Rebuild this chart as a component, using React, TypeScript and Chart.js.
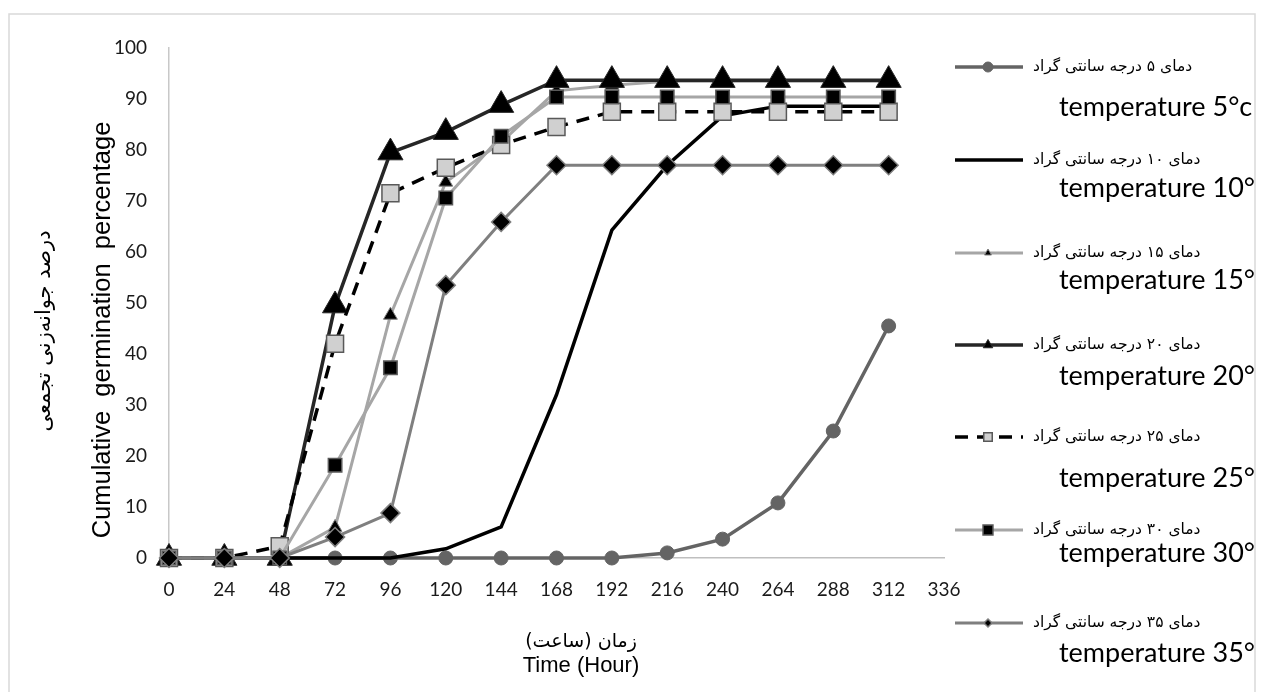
import React, { useEffect, useRef } from "react";
import { Chart, registerables } from "chart.js";

Chart.register(...registerables);

// ---- data ----
const hours = [0, 24, 48, 72, 96, 120, 144, 168, 192, 216, 240, 264, 288, 312];
const temp5 = [0, 0, 0, 0, 0, 0, 0, 0, 0, 1, 3.7, 10.8, 24.9, 45.5];
const temp10 = [0, 0, 0, 0, 0, 1.8, 6.1, 32, 64.3, 77, 86.7, 88.6, 88.6, 88.6];
const temp15 = [0, 0, 0, 6, 47.6, 73.7, 81.5, 91.6, 92.7, 93.5, 93.5, 93.5, 93.5, 93.5];
const temp20 = [0, 0, 0, 49.5, 79.5, 83.5, 88.8, 93.7, 93.7, 93.7, 93.7, 93.7, 93.7, 93.7];
const temp25 = [0, 0, 2.3, 42, 71.5, 76.5, 81, 84.5, 87.5, 87.5, 87.5, 87.5, 87.5, 87.5];
const temp30 = [0, 0, 0, 18.2, 37.3, 70.6, 82.7, 90.4, 90.4, 90.4, 90.4, 90.4, 90.4, 90.4];
const temp35 = [0, 0, 0, 4.1, 8.8, 53.5, 65.9, 77, 77, 77, 77, 77, 77, 77];

const xMin = 0;
const xMax = 336;
const xStep = 24;
const yMin = 0;
const yMax = 100;
const yStep = 10;

const persianLabels = [
  "دمای ۵ درجه سانتی گراد",
  "دمای ۱۰ درجه سانتی گراد",
  "دمای ۱۵ درجه سانتی گراد",
  "دمای ۲۰ درجه سانتی گراد",
  "دمای ۲۵ درجه سانتی گراد",
  "دمای ۳۰ درجه سانتی گراد",
  "دمای ۳۵ درجه سانتی گراد",
];
const englishLabels = [
  "temperature 5°c",
  "temperature 10°c",
  "temperature 15°c",
  "temperature 20°c",
  "temperature 25°c",
  "temperature 30°c",
  "temperature 35°c",
];
const yTitleEn = "Cumulative  germination  percentage";
const yTitleFa = "درصد جوانه‌زنی تجمعی";
const xTitleFa = "زمان (ساعت)";
const xTitleEn = "Time (Hour)";

// ---- styles ----
type Style = {
  color: string;
  width: number;
  dash: number[];
  marker: string | false;
  radius: number;
  legendRadius: number;
  fill: string;
  stroke: string;
  markerWidth: number;
};

const styles: Style[] = [
  { color: "#646464", width: 3.5, dash: [], marker: "circle", radius: 7, legendRadius: 5, fill: "#646464", stroke: "#646464", markerWidth: 1 },
  { color: "#000000", width: 3.5, dash: [], marker: false, radius: 0, legendRadius: 0, fill: "#000", stroke: "#000", markerWidth: 1 },
  { color: "#a6a6a6", width: 3, dash: [], marker: "triangle", radius: 8, legendRadius: 4, fill: "#000000", stroke: "#808080", markerWidth: 1 },
  { color: "#262626", width: 3.5, dash: [], marker: "triangle", radius: 14.5, legendRadius: 5.5, fill: "#000000", stroke: "#262626", markerWidth: 1 },
  { color: "#000000", width: 3.5, dash: [13, 9], marker: "rect", radius: 12, legendRadius: 6, fill: "#d0d0d0", stroke: "#595959", markerWidth: 1.5 },
  { color: "#a6a6a6", width: 3, dash: [], marker: "rect", radius: 9.5, legendRadius: 7, fill: "#000000", stroke: "#595959", markerWidth: 1.5 },
  { color: "#7f7f7f", width: 3, dash: [], marker: "rectRot", radius: 9.5, legendRadius: 4, fill: "#000000", stroke: "#7f7f7f", markerWidth: 1.5 },
];

const seriesValues = [temp5, temp10, temp15, temp20, temp25, temp30, temp35];

function drawMarker(ctx: CanvasRenderingContext2D, s: Style, x: number, y: number, r: number) {
  if (!s.marker || r <= 0) return;
  ctx.save();
  ctx.setLineDash([]);
  ctx.fillStyle = s.fill;
  ctx.strokeStyle = s.stroke;
  ctx.lineWidth = s.markerWidth;
  ctx.beginPath();
  if (s.marker === "circle") {
    ctx.arc(x, y, r, 0, Math.PI * 2);
  } else if (s.marker === "triangle") {
    for (let k = 0; k < 3; k++) {
      const a = (k * 2 * Math.PI) / 3;
      const px = x + Math.sin(a) * r;
      const py = y - Math.cos(a) * r;
      if (k === 0) ctx.moveTo(px, py);
      else ctx.lineTo(px, py);
    }
    ctx.closePath();
  } else if (s.marker === "rect") {
    const h = r * Math.SQRT1_2;
    ctx.rect(x - h, y - h, 2 * h, 2 * h);
  } else if (s.marker === "rectRot") {
    ctx.moveTo(x, y - r);
    ctx.lineTo(x + r, y);
    ctx.lineTo(x, y + r);
    ctx.lineTo(x - r, y);
    ctx.closePath();
  }
  ctx.fill();
  ctx.stroke();
  ctx.restore();
}

const legendLineY = [67, 160, 253, 345, 437, 530, 623];
const legendTextY = [107, 188, 280, 376, 478, 553, 653];

const decorPlugin = {
  id: "decor",
  beforeDraw(chart: any) {
    const ctx: CanvasRenderingContext2D = chart.ctx;
    ctx.save();
    ctx.fillStyle = "#ffffff";
    ctx.fillRect(0, 0, chart.width, chart.height);
    ctx.strokeStyle = "#d9d9d9";
    ctx.lineWidth = 1.5;
    ctx.strokeRect(9, 14, 1246, 700);
    ctx.restore();
  },
  afterDraw(chart: any) {
    const ctx: CanvasRenderingContext2D = chart.ctx;
    // axis titles
    ctx.save();
    ctx.fillStyle = "#000";
    ctx.textAlign = "center";
    ctx.textBaseline = "middle";
    ctx.translate(103, 330);
    ctx.rotate(-Math.PI / 2);
    ctx.font = "25.5px 'Liberation Sans', Arial, sans-serif";
    ctx.fillText(yTitleEn, 0, 0);
    ctx.restore();

    ctx.save();
    ctx.fillStyle = "#000";
    ctx.textAlign = "center";
    ctx.textBaseline = "middle";
    (ctx as any).direction = "rtl";
    ctx.translate(45, 331);
    ctx.rotate(-Math.PI / 2);
    ctx.font = "21px 'DejaVu Sans', sans-serif";
    ctx.fillText(yTitleFa, 0, 0);
    ctx.restore();

    ctx.save();
    ctx.fillStyle = "#000";
    ctx.textAlign = "center";
    ctx.textBaseline = "middle";
    (ctx as any).direction = "rtl";
    ctx.font = "19px 'DejaVu Sans', sans-serif";
    ctx.fillText(xTitleFa, 581, 642);
    (ctx as any).direction = "ltr";
    ctx.font = "22px 'Liberation Sans', Arial, sans-serif";
    ctx.fillText(xTitleEn, 581, 666);
    ctx.restore();

    // legend
    ctx.save();
    ctx.beginPath();
    ctx.rect(0, 0, 1255, chart.height);
    ctx.clip();
    styles.forEach((s, i) => {
      const y = legendLineY[i];
      ctx.save();
      ctx.strokeStyle = s.color;
      ctx.lineWidth = s.width;
      ctx.setLineDash(s.dash);
      ctx.beginPath();
      ctx.moveTo(955, y);
      ctx.lineTo(1023, y);
      ctx.stroke();
      ctx.restore();
      drawMarker(ctx, s, 988, y, s.legendRadius);

      ctx.save();
      ctx.fillStyle = "#000";
      ctx.textBaseline = "middle";
      ctx.textAlign = "left";
      (ctx as any).direction = "rtl";
      ctx.font = "15.5px 'DejaVu Sans', sans-serif";
      ctx.fillText(persianLabels[i], 1033, y);
      (ctx as any).direction = "ltr";
      ctx.font = "27px Lato, 'Open Sans', sans-serif";
      ctx.fillText(englishLabels[i], 1059, legendTextY[i]);
      ctx.restore();
    });
    ctx.restore();
  },
};

export default function App() {
  const ref = useRef<HTMLCanvasElement | null>(null);

  useEffect(() => {
    if (!ref.current) return;
    const datasets = seriesValues.map((vals, i) => {
      const s = styles[i];
      return {
        label: englishLabels[i],
        data: hours.map((h, j) => ({ x: h, y: vals[j] })),
        borderColor: s.color,
        backgroundColor: s.color,
        borderWidth: s.width,
        borderDash: s.dash,
        pointStyle: s.marker || "circle",
        pointRadius: s.radius,
        pointHoverRadius: s.radius,
        pointBackgroundColor: s.fill,
        pointBorderColor: s.stroke,
        pointBorderWidth: s.markerWidth,
        tension: 0,
        fill: false,
        clip: false as any,
        order: 7 - i,
      };
    });

    const chart = new Chart(ref.current, {
      type: "line",
      data: { datasets },
      options: {
        animation: false,
        responsive: false,
        devicePixelRatio: 1,
        layout: { padding: { top: 48, left: 0, right: 320, bottom: 0 } },
        plugins: {
          legend: { display: false },
          tooltip: { enabled: false },
        },
        scales: {
          x: {
            type: "linear",
            min: xMin,
            max: xMax,
            afterFit: (scale: any) => {
              scale.height = 134;
            },
            ticks: {
              stepSize: xStep,
              autoSkip: false,
              maxRotation: 0,
              padding: 20,
              color: "#1a1a1a",
              font: { family: "Lato, 'Open Sans', sans-serif", size: 19 },
            },
            grid: { display: false, drawTicks: false },
            border: { display: true, color: "#bfbfbf", width: 1.5 },
          },
          y: {
            type: "linear",
            min: yMin,
            max: yMax,
            afterFit: (scale: any) => {
              scale.width = 169;
            },
            ticks: {
              stepSize: yStep,
              padding: 22,
              color: "#1a1a1a",
              font: { family: "Lato, 'Open Sans', sans-serif", size: 19 },
            },
            grid: { display: false, drawTicks: false },
            border: { display: true, color: "#c8c8c8", width: 1.5 },
          },
        },
      },
      plugins: [decorPlugin],
    } as any);
    return () => chart.destroy();
  }, []);

  return (
    <div style={{ position: "fixed", left: 0, top: 0, width: 1264, height: 692 }}>
      <canvas ref={ref} width={1264} height={692} style={{ width: 1264, height: 692, display: "block" }} />
    </div>
  );
}
